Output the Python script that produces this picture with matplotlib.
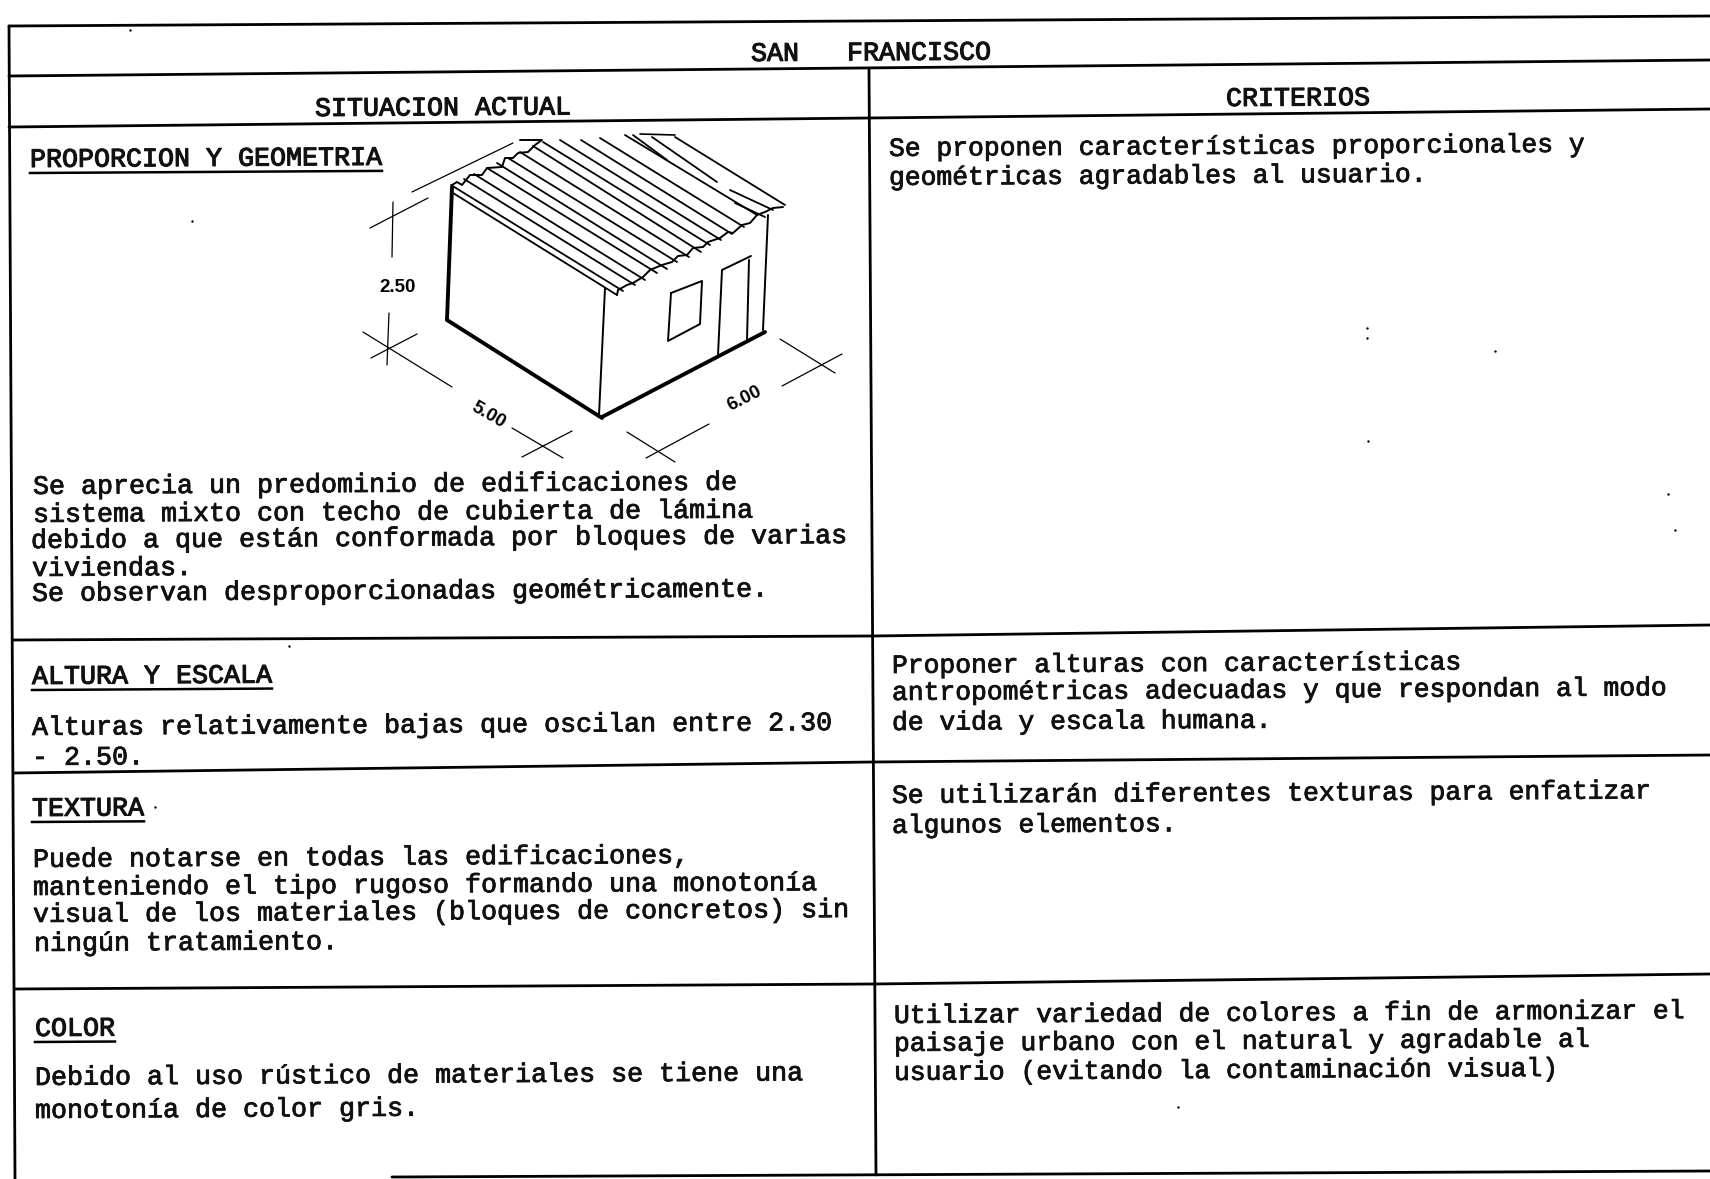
import numpy as np
import matplotlib
matplotlib.use('Agg')
import matplotlib.pyplot as plt
import matplotlib.patheffects as pe

FONT = 'Liberation Mono'
TILT = 0.35
CHAR_W = 16.0

# table rules, full-size pixel positions of the scan
top_rule = [(9, 26), (1710, 16)]
title_rule = [(9, 76), (1710, 60)]
header_rule = [(9, 127), (869, 118), (1710, 109)]
row1_rule = [(13, 640), (872, 636), (1710, 625)]
row2_rule = [(14, 773), (873, 762), (1710, 755)]
row3_rule = [(15, 989), (874, 984), (1710, 974)]
bottom_rule = [(392, 1177), (1710, 1171)]
left_rule = [(9, 26), (15, 1179)]
mid_rule = [(869, 69), (876, 1175)]
rules = [top_rule, title_rule, header_rule, row1_rule, row2_rule, row3_rule,
         bottom_rule, left_rule, mid_rule]

# (x, y, text)
headings = [(751, 54, 'SAN   FRANCISCO'),
            (315, 109, 'SITUACION ACTUAL'),
            (1226, 99, 'CRITERIOS')]
section_titles = [(30, 160, 'PROPORCION Y GEOMETRIA'),
                  (32, 677, 'ALTURA Y ESCALA'),
                  (32, 809, 'TEXTURA'),
                  (35, 1029, 'COLOR')]
left_text = [(33, 487, 'Se aprecia un predominio de edificaciones de'),
             (33, 515, 'sistema mixto con techo de cubierta de lámina'),
             (31, 541, 'debido a que están conformada por bloques de varias'),
             (32, 569, 'viviendas.'),
             (32, 594, 'Se observan desproporcionadas geométricamente.'),
             (32, 728, 'Alturas relativamente bajas que oscilan entre 2.30'),
             (32, 758, '- 2.50.'),
             (33, 860, 'Puede notarse en todas las edificaciones,'),
             (33, 888, 'manteniendo el tipo rugoso formando una monotonía'),
             (33, 915, 'visual de los materiales (bloques de concretos) sin'),
             (34, 944, 'ningún tratamiento.'),
             (35, 1078, 'Debido al uso rústico de materiales se tiene una'),
             (35, 1111, 'monotonía de color gris.')]
right_text = [(889, 149, 'Se proponen características proporcionales y'),
              (889, 178, 'geométricas agradables al usuario.'),
              (892, 666, 'Proponer alturas con características'),
              (892, 693, 'antropométricas adecuadas y que respondan al modo'),
              (892, 723, 'de vida y escala humana.'),
              (892, 796, 'Se utilizarán diferentes texturas para enfatizar'),
              (892, 826, 'algunos elementos.'),
              (894, 1016, 'Utilizar variedad de colores a fin de armonizar el'),
              (894, 1044, 'paisaje urbano con el natural y agradable al'),
              (894, 1073, 'usuario (evitando la contaminación visual)')]

# house sketch, full-size pixels
thick_lines = [[(452, 187), (447, 320)],
               [(447, 320), (602, 418)],
               [(602, 417), (765, 332)]]
thin_lines = [[(605, 288), (599, 415)],
              [(768, 215), (763, 330)],
              [(671, 293), (702, 281), (700, 324), (668, 341), (671, 293)],
              [(718, 355), (722, 270), (751, 256)],
              [(749, 260), (747, 340)]]
roof_ridges = [[(453, 193), (617, 295)],
               [(451, 185), (623, 291)],
               [(464, 179), (635, 285)],
               [(474, 174), (645, 280)],
               [(487, 168), (657, 273)],
               [(497, 163), (667, 269)],
               [(508, 158), (677, 262)],
               [(520, 152), (689, 257)],
               [(533, 146), (701, 252)],
               [(543, 142), (710, 245)],
               [(560, 140), (721, 240)],
               [(581, 140), (732, 234)],
               [(600, 138), (744, 227)],
               [(625, 135), (757, 215)],
               [(633, 135), (667, 160)],
               [(652, 137), (717, 182)],
               [(675, 137), (785, 205)],
               [(730, 190), (773, 210)],
               [(735, 203), (765, 217)]]
eave_front = [(617, 295), (618, 290), (627, 285), (633, 283), (643, 277), (650, 270),
              (662, 265), (672, 262), (678, 256), (687, 255), (693, 248), (703, 247),
              (708, 242), (720, 238), (728, 232), (733, 233), (742, 225), (750, 223),
              (757, 215), (765, 212), (773, 208), (783, 207)]
eave_side = [(452, 185), (457, 182), (462, 185), (470, 175), (482, 175), (487, 168),
             (502, 167), (505, 158), (513, 158), (518, 153), (528, 152), (535, 145),
             (542, 140), (520, 140)]
top_edge = [(640, 134), (675, 135)]
far_edge = [(412, 192), (513, 143)]
dim_lines = [[(393, 202), (392, 257)],
             [(370, 228), (428, 198)],
             [(389, 313), (387, 365)],
             [(363, 332), (452, 387)],
             [(371, 358), (417, 334)],
             [(512, 428), (563, 458)],
             [(522, 457), (572, 431)],
             [(627, 432), (675, 462)],
             [(646, 458), (709, 424)],
             [(780, 339), (835, 373)],
             [(782, 386), (842, 354)]]
dim_labels = [(398, 287, '2.50', 0), (488, 415, '5.00', -30), (745, 399, '6.00', 27)]

# dust on the scan
specks_x = [192, 1495, 1668, 1675, 1178, 130, 1368, 289, 155, 1367, 1367]
specks_y = [221, 351, 494, 530, 1107, 30, 441, 646, 807, 328, 338]


def poly(ax, pts, lw):
    ax.plot([p[0] for p in pts], [p[1] for p in pts], color='black', lw=lw,
            solid_capstyle='round')


def put_text(ax, x, y, s, stroke, size=19.2):
    ax.text(x, y, s, family=FONT, fontsize=size, color='#111111',
            ha='left', va='center', rotation=TILT, rotation_mode='anchor',
            path_effects=[pe.withStroke(linewidth=stroke, foreground='#111111')])


fig = plt.figure(figsize=(17.10, 11.79), dpi=100)
ax = fig.add_axes([0, 0, 1, 1])
ax.set_xlim(0, 1710)
ax.set_ylim(1179, 0)
ax.axis('off')

for r in rules:
    poly(ax, r, 2.0)

for x, y, s in left_text:
    put_text(ax, x, y, s, 0.6)
for x, y, s in right_text:
    put_text(ax, x, y, s, 0.6, size=18.97)
for x, y, s in headings:
    put_text(ax, x, y, s, 0.8)
for x, y, s in section_titles:
    put_text(ax, x, y, s, 0.8)
    ax.plot([x, x + len(s) * CHAR_W], [y + 13, y + 13 - 0.006 * len(s) * CHAR_W],
            color='black', lw=1.8)

for l in thick_lines:
    poly(ax, l, 2.8)
for l in thin_lines:
    poly(ax, l, 1.4)
for l in roof_ridges:
    poly(ax, l, 1.3)
poly(ax, eave_front, 1.4)
poly(ax, eave_side, 1.4)
poly(ax, top_edge, 1.2)
poly(ax, far_edge, 0.9)
for l in dim_lines:
    poly(ax, l, 0.9)
for x, y, s, rot in dim_labels:
    ax.text(x, y, s, family='Liberation Sans', fontsize=13.5, weight='bold',
            ha='center', va='center', rotation=rot, rotation_mode='anchor')

ax.scatter(specks_x, specks_y, s=3, color='black', linewidths=0)

fig.savefig('out.png', dpi=100, facecolor='white')
